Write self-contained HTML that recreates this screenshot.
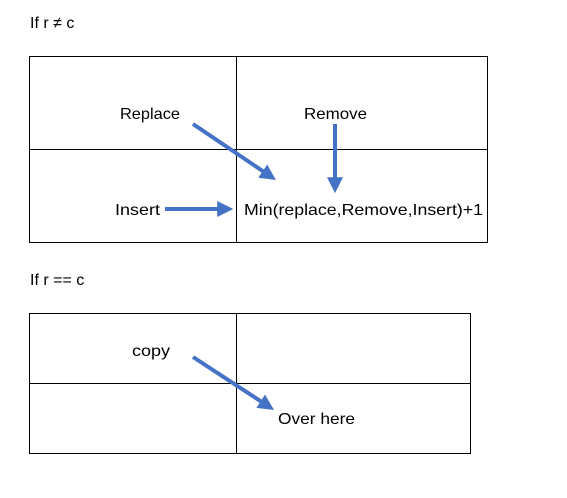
<!DOCTYPE html>
<html><head><style>
body{margin:0;background:#fff;width:567px;height:498px;overflow:hidden}
svg{display:block}
text{font-family:"Liberation Sans","DejaVu Sans",sans-serif;font-size:16px;fill:#000}
</style></head><body>
<svg width="567" height="498" xmlns="http://www.w3.org/2000/svg">
<defs><marker id="a" markerWidth="4" markerHeight="4" refX="2.2" refY="2" orient="auto" markerUnits="strokeWidth"><path d="M0,0 L4,2 L0,4 z" fill="#4472C4"/></marker></defs>
<text x="30" y="28">If r ≠ c</text>
<g stroke="#000" stroke-width="1" fill="none">
<rect x="29.5" y="56.5" width="458" height="186"/>
<line x1="236.5" y1="56" x2="236.5" y2="242"/>
<line x1="29" y1="149.5" x2="487" y2="149.5"/>
<rect x="29.5" y="313.5" width="441" height="140"/>
<line x1="236.5" y1="313" x2="236.5" y2="453"/>
<line x1="29" y1="383.5" x2="470" y2="383.5"/>
</g>
<text x="120" y="119" textLength="60" lengthAdjust="spacingAndGlyphs">Replace</text>
<text x="304" y="119" textLength="63" lengthAdjust="spacingAndGlyphs">Remove</text>
<text x="115" y="215" textLength="45" lengthAdjust="spacingAndGlyphs">Insert</text>
<text x="244" y="215" textLength="239" lengthAdjust="spacingAndGlyphs">Min(replace,Remove,Insert)+1</text>
<text x="30" y="285">If r == c</text>
<text x="132" y="356" textLength="38" lengthAdjust="spacingAndGlyphs">copy</text>
<text x="278" y="424" textLength="77" lengthAdjust="spacingAndGlyphs">Over here</text>
<g stroke="#4472C4" stroke-width="4" fill="none" marker-end="url(#a)">
<line x1="193" y1="124" x2="270" y2="176"/>
<line x1="335" y1="124" x2="335" y2="186"/>
<line x1="165" y1="209" x2="226" y2="209"/>
<line x1="193" y1="357" x2="268" y2="406"/>
</g>
</svg>
</body></html>
